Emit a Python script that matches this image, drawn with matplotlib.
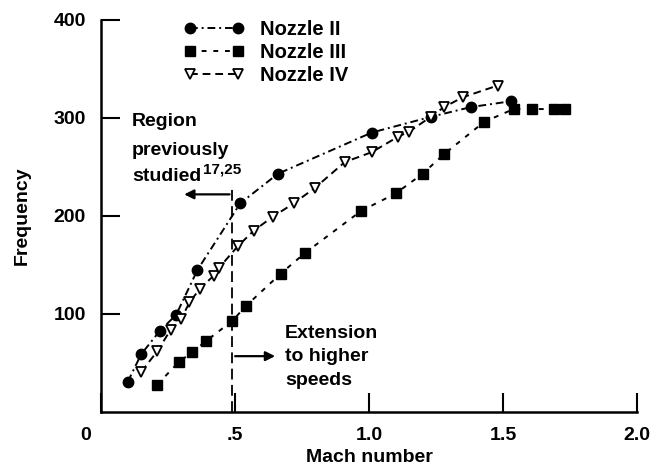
import matplotlib.pyplot as plt
from matplotlib.transforms import ScaledTranslation

# values
mach_ii = [0.10, 0.15, 0.22, 0.28, 0.36, 0.52, 0.66, 1.01, 1.23, 1.38, 1.53]
freq_ii = [31, 59, 83, 99, 145, 213, 243, 285, 301, 311, 317]

mach_iii = [0.21, 0.29, 0.34, 0.39, 0.49, 0.54, 0.67, 0.76, 0.97, 1.10, 1.20,
            1.28, 1.43, 1.54, 1.61, 1.69, 1.73]
freq_iii = [28, 51, 61, 72, 93, 108, 141, 162, 205, 223, 243, 263, 296, 309,
            309, 309, 309]

mach_iv = [0.15, 0.21, 0.26, 0.30, 0.33, 0.37, 0.42, 0.44, 0.51, 0.57, 0.64,
           0.72, 0.80, 0.91, 1.01, 1.11, 1.15, 1.23, 1.28, 1.35, 1.48]
freq_iv = [41, 62, 84, 95, 112, 126, 139, 147, 169, 185, 199, 213, 229, 255,
           265, 281, 286, 301, 311, 321, 333]

x_ticks = [0, 0.5, 1.0, 1.5, 2.0]
x_tick_labels = ["0", ".5", "1.0", "1.5", "2.0"]
y_ticks = [100, 200, 300, 400]

region_lines = ["Region", "previously", "studied"]
region_y = [292, 262, 236]
extension_lines = ["Extension", "to higher", "speeds"]
extension_y = [76, 52, 28]

plt.rcParams['font.family'] = ['Liberation Sans', 'DejaVu Sans']
plt.rcParams['font.weight'] = 'bold'

fig = plt.figure(figsize=(6.56, 4.72), dpi=100)
ax = fig.add_axes([0.154, 0.127, 0.817, 0.831])

ax.plot(mach_ii, freq_ii, color='black', linestyle=(0, (4, 2, 1, 2)), lw=1.4,
        marker='o', markersize=7.5, label='Nozzle II')
ax.plot(mach_iii, freq_iii, color='black', linestyle=(0, (2.5, 3.5)), lw=1.4,
        marker='s', markersize=6.5, label='Nozzle III')
ax.plot(mach_iv, freq_iv, color='black', linestyle=(0, (4, 2.5)), lw=1.4,
        marker='v', markersize=7.5, markerfacecolor='white', markeredgewidth=1.3,
        label='Nozzle IV')

# boundary between the two regions
ax.plot([0.49, 0.49], [0, 230], color='black', linestyle=(0, (6, 3)), lw=1.3)
ax.annotate('', xy=(0.30, 222), xytext=(0.49, 222),
            arrowprops=dict(arrowstyle='-|>', color='black', lw=1.6,
                            mutation_scale=14))
ax.annotate('', xy=(0.66, 57), xytext=(0.49, 57),
            arrowprops=dict(arrowstyle='-|>', color='black', lw=1.6,
                            mutation_scale=14))

for line, y in zip(region_lines, region_y):
    ax.text(0.115, y, line, fontsize=14, fontweight='bold', va='baseline',
            ha='left')
ax.text(0.38, 243, "17,25", fontsize=11, fontweight='bold', va='baseline',
        ha='left')
for line, y in zip(extension_lines, extension_y):
    ax.text(0.687, y, line, fontsize=14, fontweight='bold', va='baseline',
            ha='left')

ax.set_xlim(0, 2.0)
ax.set_ylim(0, 400)
ax.set_xticks(x_ticks)
ax.set_xticklabels(x_tick_labels)
ax.set_yticks(y_ticks)
ax.tick_params(axis='both', direction='in', length=14, width=1.5,
               labelsize=14)
ax.tick_params(axis='x', pad=11)
ax.tick_params(axis='y', pad=11)
for lbl in ax.get_xticklabels() + ax.get_yticklabels():
    lbl.set_fontweight('bold')
# the origin label sits a bit left of the axis in the original
first = ax.get_xticklabels()[0]
first.set_transform(first.get_transform() +
                    ScaledTranslation(-0.15, 0, fig.dpi_scale_trans))
ax.spines['top'].set_visible(False)
ax.spines['right'].set_visible(False)
ax.spines['left'].set_linewidth(1.8)
ax.spines['bottom'].set_linewidth(1.8)

ax.set_xlabel("Mach number", fontsize=14, fontweight='bold', labelpad=3)
ax.set_ylabel("Frequency", fontsize=14, fontweight='bold', labelpad=16)

ax.legend(loc='upper left', bbox_to_anchor=(0.12, 1.045), frameon=False,
          numpoints=2, handlelength=3.0, fontsize=14.5, labelspacing=0.2,
          handletextpad=0.8)

plt.savefig("out.png", dpi=100)
